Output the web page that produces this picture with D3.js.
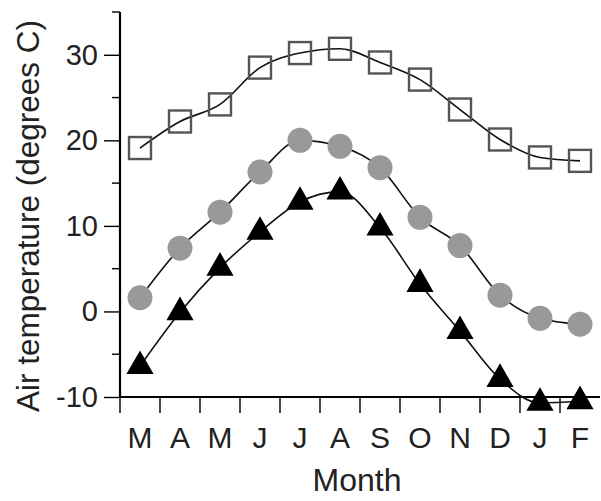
<!DOCTYPE html>
<html lang="en">
<head>
  <meta charset="UTF-8">
  <title>Air temperature by month</title>
  <script src="https://d3js.org/d3.v7.min.js"></script>
  <style>
    body { margin: 0; background: #fff; }
    text { font-family: "Liberation Sans", Arial, sans-serif; fill: #222; }
  </style>
</head>
<body>
  <svg id="chart" width="601" height="501"></svg>

  <script>
    const months = ["M", "A", "M", "J", "J", "A", "S", "O", "N", "D", "J", "F"]
    const maxTemp = [19.1, 22.2, 24.2, 28.5, 30.2, 30.7, 29.1, 27.1, 23.6, 20.1, 18.0, 17.6]
    const meanTemp = [1.6, 7.4, 11.6, 16.3, 20.0, 19.3, 16.8, 11.0, 7.7, 1.9, -0.8, -1.5]
    const minTemp = [-6.4, -0.1, 5.1, 9.3, 12.8, 14.0, 9.8, 3.2, -2.3, -7.9, -10.7, -10.5]
    const yTicks = [-10, 0, 10, 20, 30]
    const yMinorTicks = [-5, 5, 15, 25, 35]

    const svg = d3.select("#chart")

    const x = d3.scaleBand()
      .domain(d3.range(months.length))
      .range([120, 600])
      .padding(0)

    const y = d3.scaleLinear()
      .domain([-10, 35])
      .range([397, 12])

    const cx = i => x(i) + x.bandwidth() / 2

    // y axis (plain hyphen for negatives, like the original)
    const yAxis = svg.append("g")
      .attr("transform", "translate(120,0)")
      .call(d3.axisLeft(y).tickValues(yTicks).tickSize(16).tickPadding(6).tickFormat(d => String(d)))
    yAxis.select(".domain").attr("stroke-width", 2.2).attr("d", "M0," + y(35) + "V" + y(-10))
    yAxis.selectAll(".tick line").attr("stroke-width", 1.4)
    yAxis.selectAll(".tick text")
      .style("font-size", "29px")
      .attr("fill", "#222")

    svg.append("g")
      .selectAll("line")
      .data(yMinorTicks)
      .join("line")
      .attr("x1", 112)
      .attr("x2", 120)
      .attr("y1", d => y(d))
      .attr("y2", d => y(d))
      .attr("stroke", "#000")
      .attr("stroke-width", 1.4)

    // x axis
    const xAxis = svg.append("g")
      .attr("transform", "translate(0,397)")
      .call(d3.axisBottom(x).tickSize(0).tickPadding(30).tickFormat(i => months[i]))
    xAxis.select(".domain").attr("stroke-width", 2.2).attr("d", "M120,0H600")
    xAxis.selectAll(".tick text")
      .style("font-size", "30px")
      .attr("fill", "#222")

    svg.append("g")
      .selectAll("line")
      .data(d3.range(months.length))
      .join("line")
      .attr("x1", d => x(d))
      .attr("x2", d => x(d))
      .attr("y1", 397)
      .attr("y2", 413)
      .attr("stroke", "#000")
      .attr("stroke-width", 1.4)

    // axis titles
    svg.append("text")
      .attr("transform", "translate(39,216) rotate(-90)")
      .attr("text-anchor", "middle")
      .style("font-size", "31.5px")
      .text("Air temperature (degrees C)")

    svg.append("text")
      .attr("x", 357)
      .attr("y", 491)
      .attr("text-anchor", "middle")
      .style("font-size", "32px")
      .text("Month")

    const line = d3.line()
      .x((d, i) => cx(i))
      .y(d => y(d))
      .curve(d3.curveMonotoneX)

    // lines
    ;[maxTemp, meanTemp, minTemp].forEach(series => {
      svg.append("path")
        .datum(series)
        .attr("fill", "none")
        .attr("stroke", "#111")
        .attr("stroke-width", 1.6)
        .attr("d", line)
    })

    // squares (max)
    svg.append("g")
      .selectAll("rect")
      .data(maxTemp)
      .join("rect")
      .attr("x", (d, i) => cx(i) - 11)
      .attr("y", d => y(d) - 11)
      .attr("width", 22)
      .attr("height", 22)
      .attr("fill", "none")
      .attr("stroke", "#555")
      .attr("stroke-width", 2.4)

    // circles (mean)
    svg.append("g")
      .selectAll("circle")
      .data(meanTemp)
      .join("circle")
      .attr("cx", (d, i) => cx(i))
      .attr("cy", d => y(d))
      .attr("r", 12.5)
      .attr("fill", "#999")

    // triangles (min)
    const tri = d3.symbol().type(d3.symbolTriangle).size(320)
    svg.append("g")
      .selectAll("path")
      .data(minTemp)
      .join("path")
      .attr("transform", (d, i) => "translate(" + cx(i) + "," + y(d) + ")")
      .attr("d", tri)
      .attr("fill", "#000")
  </script>
</body>
</html>
